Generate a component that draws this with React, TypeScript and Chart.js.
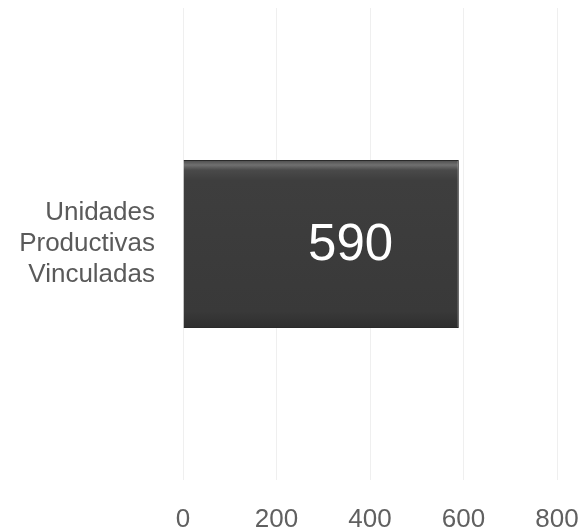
import React, { useEffect, useRef } from "react";
import { Chart, registerables } from "chart.js";

Chart.register(...registerables);

const categories: string[][] = [["Unidades", "Productivas", "Vinculadas"]];
const values: number[] = [590];
const xTicks: number[] = [0, 200, 400, 600, 800];

const BAR_PCT = 0.356;

const valueLabelPlugin = {
  id: "valueLabel",
  afterDatasetsDraw(chart: any) {
    const ctx = chart.ctx;
    const meta = chart.getDatasetMeta(0);
    meta.data.forEach((bar: any, i: number) => {
      const { x, y, base } = bar.getProps(["x", "y", "base"], true);
      const cx = base + (x - base) * 0.607;
      ctx.save();
      ctx.fillStyle = "#ffffff";
      ctx.font = "51px 'Liberation Sans', Arial, sans-serif";
      ctx.textAlign = "center";
      ctx.textBaseline = "middle";
      ctx.fillText(String(values[i]), cx, y + 2);
      ctx.restore();
    });
  },
};

function barFill(context: any) {
  const chart = context.chart;
  const area = chart.chartArea;
  if (!area) return "#3d3d3d";
  const yScale = chart.scales.y;
  const cy = yScale.getPixelForValue(context.dataIndex ?? 0);
  const half = ((area.bottom - area.top) / categories.length) * BAR_PCT / 2;
  const top = cy - half;
  const bottom = cy + half;
  const g = chart.ctx.createLinearGradient(0, top, 0, bottom);
  g.addColorStop(0, "#4a4a4a");
  g.addColorStop(0.03, "#707070");
  g.addColorStop(0.06, "#4a4a4a");
  g.addColorStop(0.12, "#3e3e3e");
  g.addColorStop(0.9, "#393939");
  g.addColorStop(1, "#2e2e2e");
  return g;
}

export default function App() {
  const ref = useRef<HTMLCanvasElement | null>(null);
  useEffect(() => {
    if (!ref.current) return;
    const chart = new Chart(ref.current, {
      type: "bar",
      data: {
        labels: categories as any,
        datasets: [
          {
            data: values,
            backgroundColor: barFill,
            borderColor: "#2a2a2a",
            borderWidth: 1,
            barPercentage: BAR_PCT,
            categoryPercentage: 1,
          },
        ],
      },
      options: {
        indexAxis: "y",
        animation: false,
        responsive: false,
        maintainAspectRatio: false,
        layout: { padding: { top: 8, right: 24, left: 0, bottom: 0 } },
        plugins: { legend: { display: false }, tooltip: { enabled: false } },
        scales: {
          x: {
            min: 0,
            max: 800,
            afterBuildTicks: (scale: any) => {
              scale.ticks = xTicks.map((v) => ({ value: v }));
            },
            afterFit: (scale: any) => {
              scale.height = 52;
              scale.paddingLeft = 0;
              scale.paddingRight = 0;
            },
            grid: { color: "#efefef", drawTicks: false },
            border: { display: false },
            ticks: {
              padding: 24,
              color: "#606060",
              font: { family: "'Liberation Sans', Arial, sans-serif", size: 26 },
            },
          },
          y: {
            afterFit: (scale: any) => {
              scale.width = 183;
              scale.paddingTop = 0;
              scale.paddingBottom = 0;
            },
            grid: { display: false, drawTicks: false },
            border: { display: false },
            ticks: {
              padding: 28,
              color: "#5a5a5a",
              font: { family: "'Liberation Sans', Arial, sans-serif", size: 26, lineHeight: 1.2 },
            },
          },
        },
      },
      plugins: [valueLabelPlugin],
    });
    return () => chart.destroy();
  }, []);
  return (
    <div style={{ position: "fixed", left: 0, top: 0, width: 581, height: 532, background: "#fff" }}>
      <canvas ref={ref} width={581} height={532} style={{ width: 581, height: 532 }} />
    </div>
  );
}
